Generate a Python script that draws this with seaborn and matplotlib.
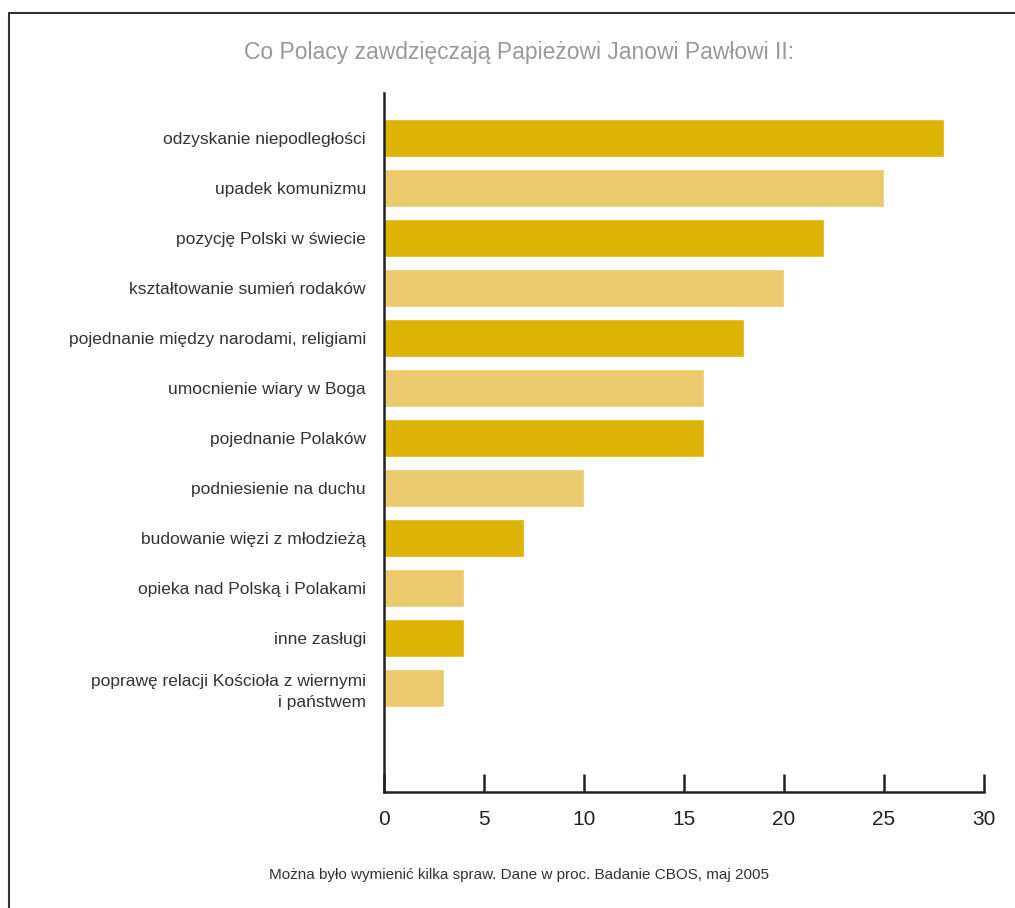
import matplotlib
matplotlib.use("Agg")
import matplotlib.pyplot as plt
from matplotlib.lines import Line2D
import seaborn as sns
import pandas as pd

categories = [
    "odzyskanie niepodległości",
    "upadek komunizmu",
    "pozycję Polski w świecie",
    "kształtowanie sumień rodaków",
    "pojednanie między narodami, religiami",
    "umocnienie wiary w Boga",
    "pojednanie Polaków",
    "podniesienie na duchu",
    "budowanie więzi z młodzieżą",
    "opieka nad Polską i Polakami",
    "inne zasługi",
    "poprawę relacji Kościoła z wiernymi\ni państwem",
]
values = [28, 25, 22, 20, 18, 16, 16, 10, 7, 4, 4, 3]
xticks = [0, 5, 10, 15, 20, 25, 30]
title = "Co Polacy zawdzięczają Papieżowi Janowi Pawłowi II:"
footnote = "Można było wymienić kilka spraw. Dane w proc. Badanie CBOS, maj 2005"

dark = "#DDB305"
light = "#EBC96D"
palette = [dark if i % 2 == 0 else light for i in range(len(categories))]

sns.set_style("white")
plt.rcParams['font.family'] = ['Liberation Sans', 'DejaVu Sans']

df = pd.DataFrame({"cat": categories, "val": values})

fig = plt.figure(figsize=(10.15, 9.08), dpi=100)
ax = fig.add_axes([384/1015, 1-792/908, 600/1015, (792-93)/908])

sns.barplot(data=df, x="val", y="cat", hue="cat", palette=palette,
            legend=False, width=0.76, saturation=1, ax=ax, orient="h")

ax.set_xlim(0, 30)
ax.set_ylim(13.08, -0.9)
ax.set_xticks(xticks)
ax.set_xticklabels([str(t) for t in xticks], fontsize=15, color="#222222")
ax.set_xlabel("")
ax.set_ylabel("")
for s in ["top", "right"]:
    ax.spines[s].set_visible(False)
for s in ["left", "bottom"]:
    ax.spines[s].set_linewidth(1.8)
    ax.spines[s].set_color("#222222")
ax.tick_params(axis="x", bottom=True, direction="in", length=13, width=1.8,
               color="#222222", pad=13)
ax.tick_params(axis="y", left=False, length=0, pad=13, labelsize=12.5, labelcolor="#333333")
for lbl in ax.get_yticklabels():
    lbl.set_horizontalalignment("right")
    lbl.set_multialignment("right")
    lbl.set_linespacing(1.45)

fig.text(519/1015, 1-52/908, title, ha="center", va="center",
         fontsize=16.5, color="#999999")
fig.text(519/1015, 1-875/908, footnote, ha="center", va="center",
         fontsize=11, color="#333333")

# frame
fig.add_artist(Line2D([8.5/1015, 8.5/1015], [-0.1, 1-13/908], transform=fig.transFigure,
                      color="#333333", linewidth=1.5))
fig.add_artist(Line2D([8.5/1015, 1.1], [1-13/908, 1-13/908], transform=fig.transFigure,
                      color="#333333", linewidth=1.5))

fig.savefig("out.png", dpi=100)
